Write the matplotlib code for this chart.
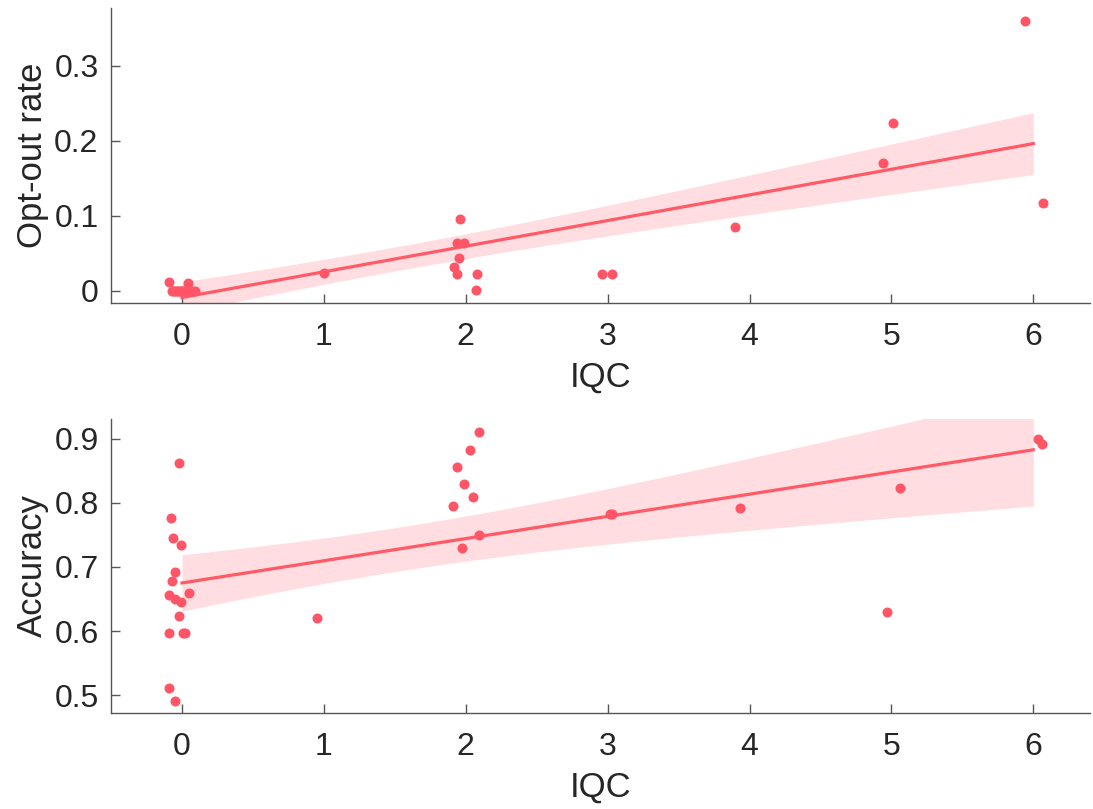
import numpy as np
import matplotlib
matplotlib.use("Agg")
import matplotlib.pyplot as plt

plt.rcParams['font.family'] = ['Liberation Sans', 'DejaVu Sans']

# IQC level of each subject (used for the fit) and its jittered display position
iqc = [0] * 16 + [1] + [2] * 8 + [3] * 2 + [4] + [5] * 2 + [6] * 2

optout_x = [-0.09, 0.04, -0.07, -0.06, -0.05, -0.04, -0.03, -0.02, -0.01, 0.00,
            0.01, 0.02, 0.03, 0.05, 0.07, 0.09,
            1.00,
            1.96, 1.94, 1.99, 1.95, 1.92, 1.94, 2.08, 2.07,
            2.96, 3.03,
            3.90,
            4.94, 5.01,
            5.94, 6.07]
optout_rate = [0.012, 0.011, 0.0, 0.0, 0.0, 0.0, 0.0, 0.0, 0.0, 0.0,
               0.0, 0.0, 0.0, 0.0, 0.0, 0.0,
               0.024,
               0.096, 0.064, 0.064, 0.044, 0.032, 0.023, 0.023, 0.001,
               0.023, 0.023,
               0.085,
               0.171, 0.224,
               0.360, 0.117]

acc_x = [-0.02, -0.08, -0.06, -0.01, -0.05, -0.07, -0.09, -0.05, -0.01, 0.05,
         -0.02, -0.09, 0.01, 0.02, -0.09, -0.05,
         0.95,
         2.09, 2.03, 1.94, 1.99, 2.05, 1.91, 2.09, 1.97,
         3.02, 3.03,
         3.93,
         4.97, 5.06,
         6.03, 6.06]
accuracy = [0.862, 0.777, 0.745, 0.734, 0.692, 0.678, 0.656, 0.650, 0.645, 0.660,
            0.623, 0.597, 0.597, 0.597, 0.511, 0.490,
            0.620,
            0.911, 0.883, 0.856, 0.830, 0.809, 0.795, 0.750, 0.730,
            0.783, 0.782,
            0.792,
            0.630, 0.823,
            0.900, 0.892]

x_ticks = [0, 1, 2, 3, 4, 5, 6]
optout_ticks = [0, 0.1, 0.2, 0.3]
optout_ticklabels = ['0', '0.1', '0.2', '0.3']
acc_ticks = [0.5, 0.6, 0.7, 0.8, 0.9]
acc_ticklabels = ['0.5', '0.6', '0.7', '0.8', '0.9']

POINT = '#FF5566'
LINE = '#FF5A66'
BAND = '#FFDDE1'
TEXT = '#262626'
AXIS = '#555555'


def linear_fit_ci(x, y, grid, t_crit=2.042):
    x = np.asarray(x, float)
    y = np.asarray(y, float)
    n = len(x)
    slope, intercept = np.polyfit(x, y, 1)
    resid = y - (slope * x + intercept)
    s = np.sqrt(np.sum(resid ** 2) / (n - 2))
    sxx = np.sum((x - x.mean()) ** 2)
    fit = slope * grid + intercept
    half = t_crit * s * np.sqrt(1.0 / n + (grid - x.mean()) ** 2 / sxx)
    return fit, fit - half, fit + half


def style_axes(ax, yticks, yticklabels, ylim, ylabel):
    ax.set_xlim(-0.5, 6.4)
    ax.set_ylim(*ylim)
    ax.set_xticks(x_ticks)
    ax.set_xticklabels([str(t) for t in x_ticks])
    ax.set_yticks(yticks)
    ax.set_yticklabels(yticklabels)
    for side in ('top', 'right'):
        ax.spines[side].set_visible(False)
    for side in ('left', 'bottom'):
        ax.spines[side].set_color(AXIS)
        ax.spines[side].set_linewidth(1.0)
    ax.tick_params(axis='both', direction='in', length=6.5, width=1.0,
                   color=AXIS, labelcolor=TEXT, labelsize=23)
    ax.tick_params(axis='x', pad=14)
    ax.tick_params(axis='y', pad=9)
    ax.set_xlabel('IQC', fontsize=25, color=TEXT, labelpad=6)
    ax.set_ylabel(ylabel, fontsize=25, color=TEXT, labelpad=4)


def draw_panel(ax, xs, ys):
    grid = np.linspace(min(iqc), max(iqc), 200)
    fit, lo, hi = linear_fit_ci(iqc, ys, grid)
    ax.fill_between(grid, lo, hi, color=BAND, linewidth=0, zorder=1)
    ax.plot(grid, fit, color=LINE, linewidth=2.3, zorder=2)
    ax.scatter(xs, ys, s=52, color=POINT, linewidths=0, zorder=3)


fig = plt.figure(figsize=(10.93, 8.09), dpi=100)
ax_top = fig.add_axes([0.1016, 0.6255, 0.8957, 0.3646])
ax_bot = fig.add_axes([0.1016, 0.1187, 0.8957, 0.3633])

draw_panel(ax_top, optout_x, optout_rate)
style_axes(ax_top, optout_ticks, optout_ticklabels, (-0.016, 0.377), 'Opt-out rate')

draw_panel(ax_bot, acc_x, accuracy)
style_axes(ax_bot, acc_ticks, acc_ticklabels, (0.472, 0.931), 'Accuracy')

fig.savefig('out.png', dpi=100)
